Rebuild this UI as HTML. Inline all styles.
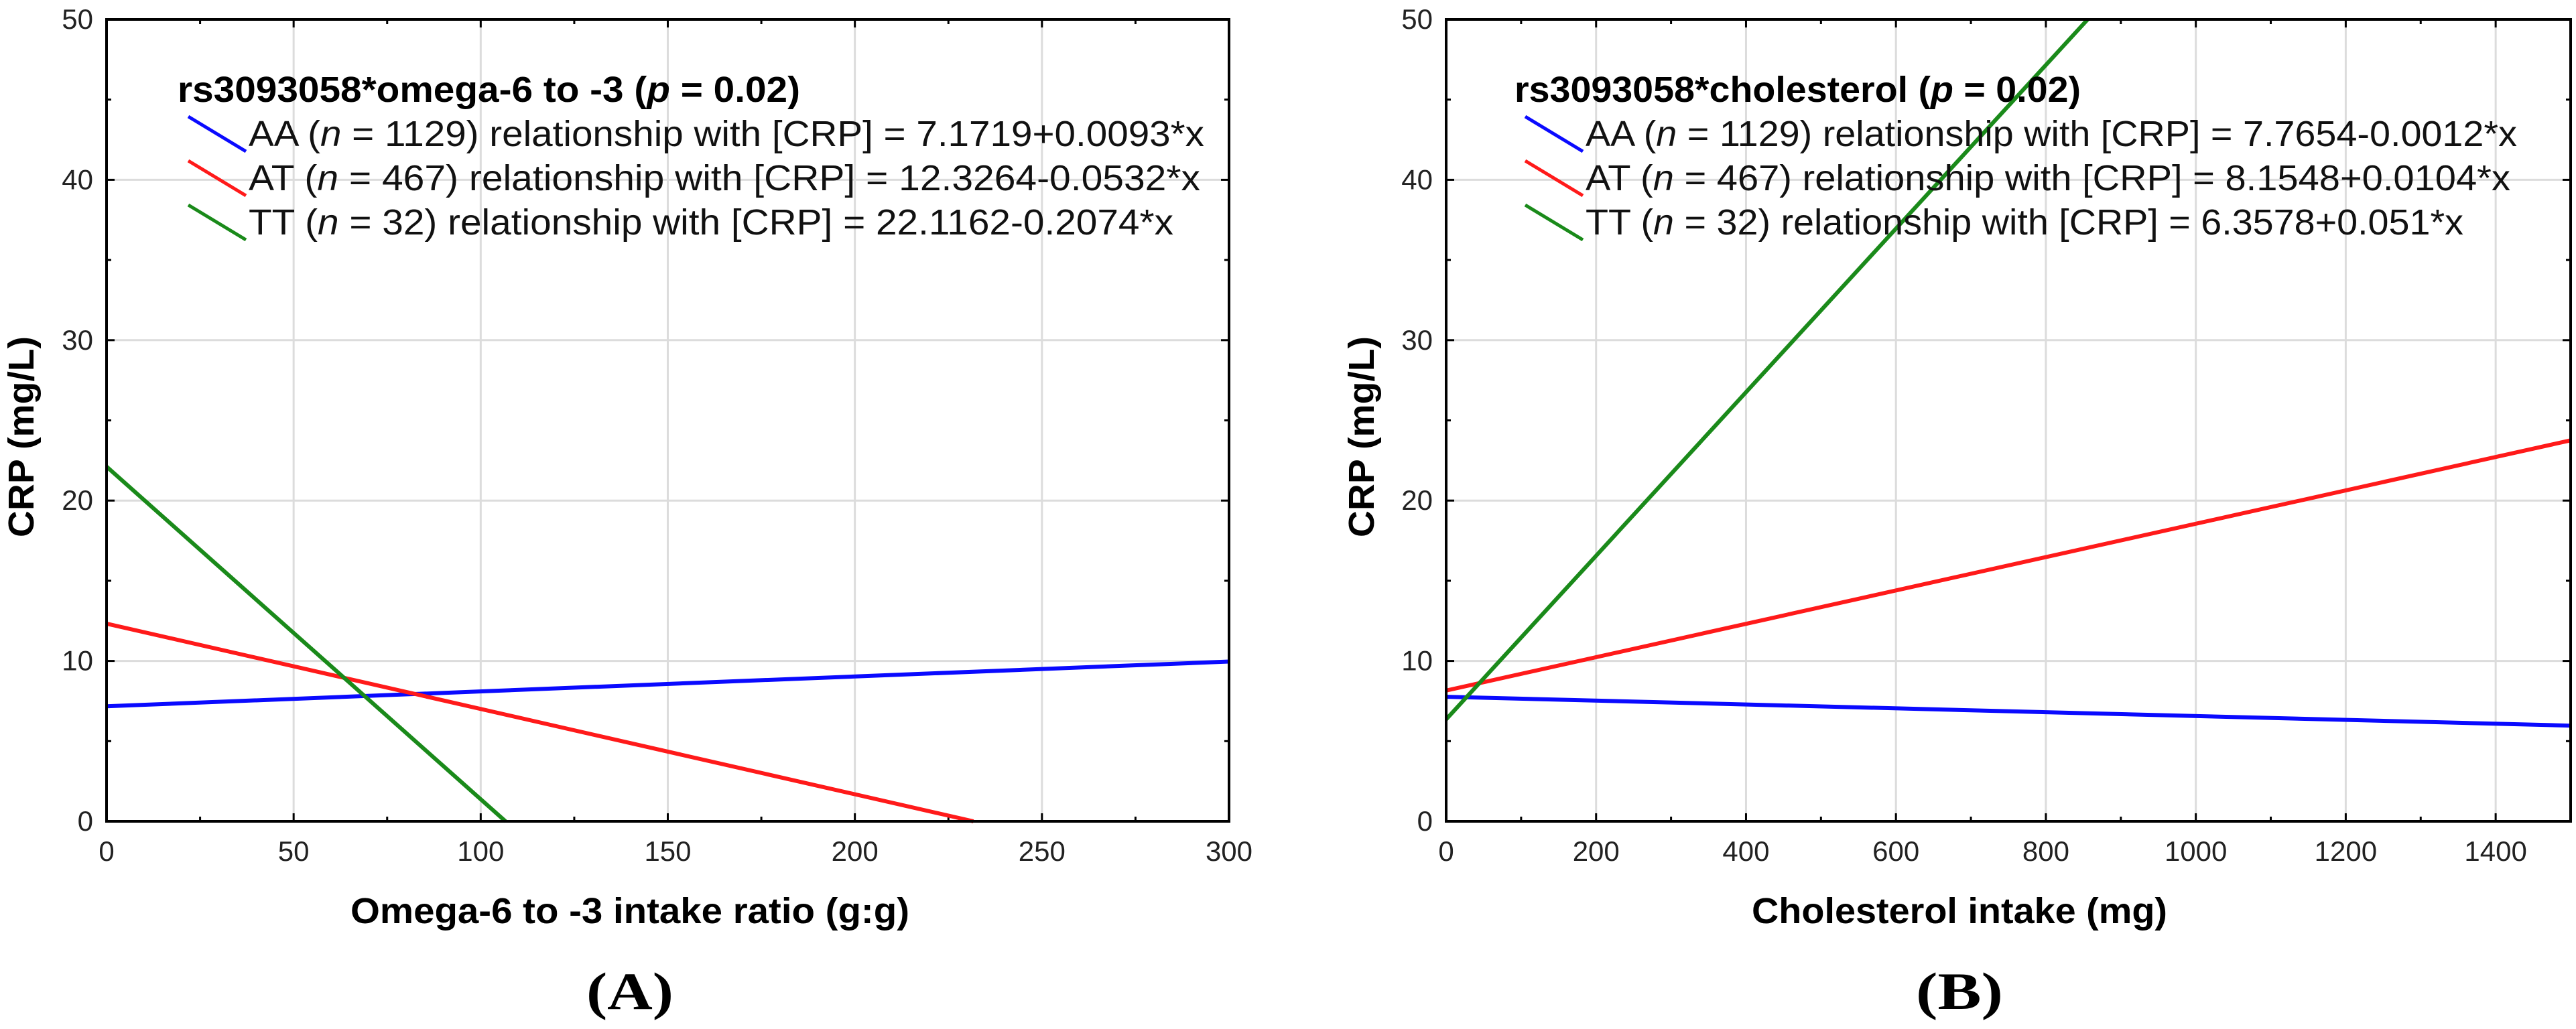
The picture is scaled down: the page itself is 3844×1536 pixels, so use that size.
<!DOCTYPE html>
<html><head><meta charset="utf-8"><style>
html,body{margin:0;padding:0;background:#fff;width:3844px;height:1536px;overflow:hidden;}
svg{display:block;}
text{font-family:"Liberation Sans",Arial,sans-serif;}
</style></head><body>
<svg id="chart" width="3844" height="1536" viewBox="0 0 3844 1536" xmlns="http://www.w3.org/2000/svg"></svg>
<script>
// Panel A data
const aXTicks = [0,50,100,150,200,250,300];
const aYTicks = [0,10,20,30,40,50];
const aGenotypes = ["AA","AT","TT"];
const aCounts = [1129,467,32];
const aIntercepts = [7.1719,12.3264,22.1162];
const aSlopes = [0.0093,-0.0532,-0.2074];
const aEqs = ["7.1719+0.0093*x","12.3264-0.0532*x","22.1162-0.2074*x"];
// Panel B data
const bXTicks = [0,200,400,600,800,1000,1200,1400];
const bYTicks = [0,10,20,30,40,50];
const bGenotypes = ["AA","AT","TT"];
const bCounts = [1129,467,32];
const bIntercepts = [7.7654,8.1548,6.3578];
const bSlopes = [-0.0012,0.0104,0.051];
const bEqs = ["7.7654-0.0012*x","8.1548+0.0104*x","6.3578+0.051*x"];

const colors = ["#0a0aff","#ff1a1a","#1a8a1a"];
const NS = "http://www.w3.org/2000/svg";
const svg = document.getElementById('chart');
function mk(tag, attrs, parent){const e=document.createElementNS(NS,tag);for(const k in attrs)e.setAttribute(k,attrs[k]);(parent||svg).appendChild(e);return e;}

function panel(o){
  const g = mk('g',{});
  
  
  const L=o.L,R=o.R,T=29,B=1226;
  const xmin=o.xt[0], xmax=o.xmax, ymin=0, ymax=50;
  const sx=v=>L+(v-xmin)/(xmax-xmin)*(R-L);
  const sy=v=>B-(v-ymin)/(ymax-ymin)*(B-T);
  o.xt.forEach(v=>{ if(v>xmin&&v<xmax){const l=mk('line',{x1:sx(v),x2:sx(v),y1:T,y2:B,stroke:'#dcdcdc','stroke-width':3},g);
    
    }});
  o.yt.forEach(v=>{ if(v>ymin&&v<ymax){const l=mk('line',{x1:L,x2:R,y1:sy(v),y2:sy(v),stroke:'#dcdcdc','stroke-width':3},g);
    
    }});
  const xstep=o.xt[1]-o.xt[0];
  for(let v=xmin; v<=xmax+1e-9; v+=xstep/2){
    const len = (Math.abs((v-xmin)/xstep - Math.round((v-xmin)/xstep))<1e-6)?12:7;
    mk('line',{x1:sx(v),x2:sx(v),y1:B,y2:B-len,stroke:'#000','stroke-width':3},g);
    mk('line',{x1:sx(v),x2:sx(v),y1:T,y2:T+len,stroke:'#000','stroke-width':3},g);
  }
  for(let v=0; v<=50; v+=5){
    const len = v%10===0?12:7;
    mk('line',{x1:L,x2:L+len,y1:sy(v),y2:sy(v),stroke:'#000','stroke-width':3},g);
    mk('line',{x1:R,x2:R-len,y1:sy(v),y2:sy(v),stroke:'#000','stroke-width':3},g);
  }
  o.ints.forEach((b,i)=>{
    const m=o.slopes[i];
    // clip the segment analytically to the y range
    let x0=xmin, x1=xmax;
    if(m!==0){
      const xa=(ymin-b)/m, xb=(ymax-b)/m;
      const lo=Math.min(xa,xb), hi=Math.max(xa,xb);
      x0=Math.max(x0,lo); x1=Math.min(x1,hi);
    }
    if(x1<=x0) return;
    const ln=mk('line',{x1:sx(x0),y1:sy(b+m*x0),x2:sx(x1),y2:sy(b+m*x1),stroke:colors[i],'stroke-width':6},g);
    
    
  });
  const fr=mk('rect',{x:L,y:T,width:R-L,height:B-T,fill:'none',stroke:'#000','stroke-width':4},g);
  
  
  o.xt.forEach(v=>{const t=mk('text',{x:sx(v),y:1285,'font-size':42,'text-anchor':'middle',fill:'#222'},g);t.textContent=v;
    
    });
  o.yt.forEach(v=>{const t=mk('text',{x:L-20,y:sy(v)+14,'font-size':42,'text-anchor':'end',fill:'#222'},g);t.textContent=v;
    
    });
  const yt=mk('text',{x:0,y:0,'font-size':54,'font-weight':'bold','text-anchor':'middle',textLength:300,lengthAdjust:'spacingAndGlyphs',transform:'translate('+(o.ytx)+',652) rotate(-90)'},g);
  yt.textContent='CRP (mg/L)';
  
  
  const xtt=mk('text',{x:o.xtc,y:1378,'font-size':54,'font-weight':'bold','text-anchor':'middle',textLength:o.xtlen,lengthAdjust:'spacingAndGlyphs'},g);
  xtt.textContent=o.xtitle;
  
  
  const pl=mk('text',{x:o.xtc,y:1506,'font-size':78,'font-weight':'bold','text-anchor':'middle',textLength:130,lengthAdjust:'spacingAndGlyphs'},g);
  pl.textContent=o.label;
  pl.style.fontFamily='"Liberation Serif", serif';
  
  
  const lt=mk('text',{x:o.lgx,y:152,'font-size':54,'font-weight':'bold',textLength:o.ltlen,lengthAdjust:'spacingAndGlyphs'},g);
  lt.innerHTML=o.ltitle;
  
  
  const rows=[218,284,350];
  o.gen.forEach((gn,i)=>{
    const s=mk('line',{x1:o.lgx+16,y1:rows[i]-44,x2:o.lgx+102,y2:rows[i]+8,stroke:colors[i],'stroke-width':5},g);
    
    
    const t=mk('text',{x:o.lgx+106,y:rows[i],'font-size':54,fill:'#111',textLength:o.rowlen[i],lengthAdjust:'spacingAndGlyphs'},g);
    t.innerHTML=gn+' (<tspan font-style="italic">n</tspan> = '+o.counts[i]+') relationship with [CRP] = '+o.eqs[i];
    
    
  });
}
panel({id:'a',L:159,R:1834,xt:aXTicks,xmax:300,yt:aYTicks,ints:aIntercepts,slopes:aSlopes,gen:aGenotypes,counts:aCounts,eqs:aEqs,
  ytx:50,xtc:940,xtlen:834,xtitle:'Omega-6 to -3 intake ratio (g:g)',label:'(A)',lgx:265,ltlen:929,rowlen:[1426,1420,1380],
  ltitle:'rs3093058*omega-6 to -3 (<tspan font-style="italic">p</tspan> = 0.02)'});
panel({id:'b',L:2158,R:3836,xt:bXTicks,xmax:1500,yt:bYTicks,ints:bIntercepts,slopes:bSlopes,gen:bGenotypes,counts:bCounts,eqs:bEqs,
  ytx:2050,xtc:2924,xtlen:620,xtitle:'Cholesterol intake (mg)',label:'(B)',lgx:2260,ltlen:845,rowlen:[1390,1380,1310],
  ltitle:'rs3093058*cholesterol (<tspan font-style="italic">p</tspan> = 0.02)'});
</script>
</body></html>
